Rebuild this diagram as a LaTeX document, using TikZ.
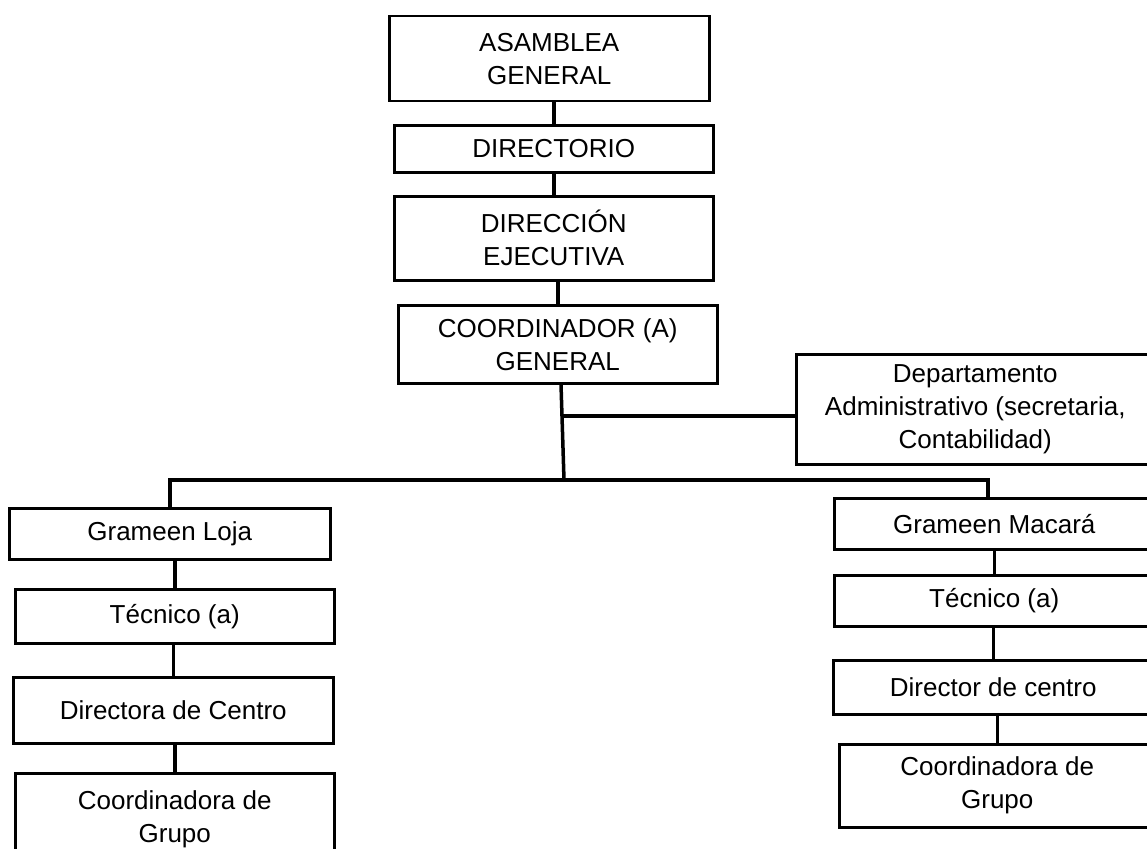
\documentclass[tikz,border=0pt]{standalone}
\usepackage{fontspec}
\setmainfont{Liberation Sans}

\begin{document}
\begin{tikzpicture}[x=1pt,y=1pt,
unit/.style={%
anchor=north west,
draw,
line width=2.5pt,
align=center,
inner sep=0pt,
font=\fontsize{26}{33}\selectfont,
},
link/.style={%
line width=3.5pt,
},
]
\useasboundingbox (0,0) rectangle (1147,-848);
\clip (0,0) rectangle (1147,-848);
%% Top of the chart
\node[unit,minimum width=320pt,minimum height=85pt](asamblea)at(388,-15){ASAMBLEA\\GENERAL};
\node[unit,minimum width=319pt,minimum height=47pt](directorio)at(393,-124){DIRECTORIO};
\node[unit,minimum width=319pt,minimum height=84pt](direccion)at(393,-195){DIRECCIÓN\\EJECUTIVA};
\node[unit,minimum width=319pt,minimum height=78pt](coord)at(397,-304){COORDINADOR (A)\\GENERAL};
\node[unit,minimum width=358pt,minimum height=110pt](dept)at(795,-353){Departamento\\Administrativo (secretaria,\\Contabilidad)};
%% Loja
\node[unit,minimum width=321pt,minimum height=51pt](loja)at(8,-507){Grameen Loja};
\node[unit,minimum width=319pt,minimum height=54pt](tecloja)at(14,-588){Técnico (a)};
\node[unit,minimum width=320pt,minimum height=66pt](dirloja)at(12,-676){Directora de Centro};
\node[unit,minimum width=319pt,minimum height=92pt](grploja)at(14,-772){Coordinadora de\\Grupo};
%% Macara
\node[unit,minimum width=320pt,minimum height=51pt](macara)at(833,-497){Grameen Macará};
\node[unit,minimum width=320pt,minimum height=51pt](tecmacara)at(833,-574){Técnico (a)};
\node[unit,minimum width=320pt,minimum height=54pt](dirmacara)at(832,-659){Director de centro};
\node[unit,minimum width=316pt,minimum height=83pt](grpmacara)at(838,-743){Coordinadora de\\Grupo};
%% Links
\coordinate(tee)at(561,-416);
\coordinate(hub)at(564,-480);
\coordinate(busloja)at(170,-480);
\coordinate(busmacara)at(988,-480);
\draw[link](directorio.north |- asamblea.south)--(directorio.north);
\draw[link](direccion.north |- directorio.south)--(direccion.north);
\draw[link](coord.north |- direccion.south)--(coord.north);
\draw[link](coord.south -| tee)--(hub);
\draw[link](tee)--(tee -| dept.west);
\draw[link](loja.north -| busloja)--(busloja)--(busmacara)--(macara.north -| busmacara);
\draw[link](tecloja.north |- loja.south)--(tecloja.north);
\draw[link](dirloja.north |- tecloja.south)--(dirloja.north);
\draw[link](grploja.north |- dirloja.south)--(grploja.north);
\draw[link](tecmacara.north |- macara.south)--(tecmacara.north);
\draw[link](dirmacara.north |- tecmacara.south)--(dirmacara.north);
\draw[link](grpmacara.north |- dirmacara.south)--(grpmacara.north);
\end{tikzpicture}
\end{document}
